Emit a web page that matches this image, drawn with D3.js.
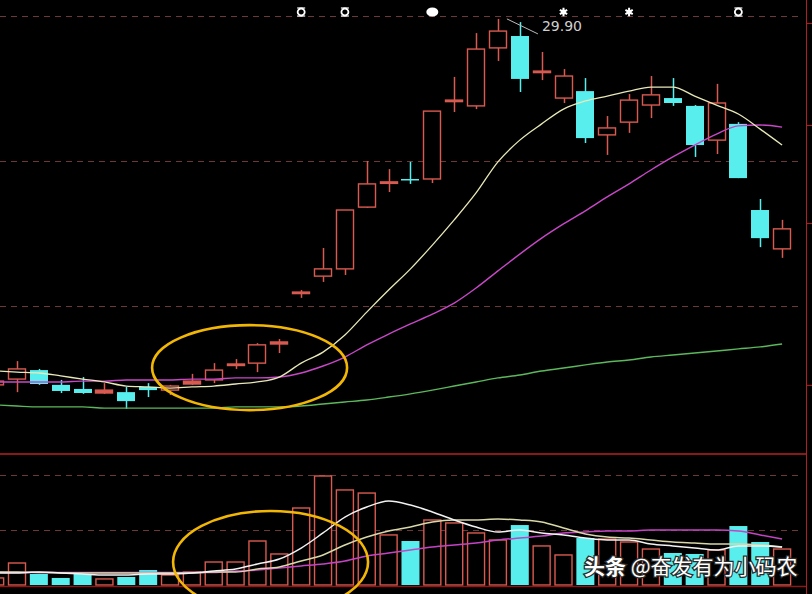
<!DOCTYPE html>
<html><head><meta charset="utf-8">
<script src="https://cdn.jsdelivr.net/npm/d3@7/dist/d3.min.js"></script>
<style>html,body{margin:0;padding:0;background:#000;overflow:hidden}</style>
</head><body><svg id="c" width="812" height="594"></svg>
<script>
// ---------- data ----------
const days = ["D00","D01","D02","D03","D04","D05","D06","D07","D08","D09","D10","D11","D12","D13","D14","D15","D16","D17","D18",
  "D19","D20","D21","D22","D23","D24","D25","D26","D27","D28","D29","D30","D31","D32","D33","D34","D35","D36"];
const open  = [17.28,17.48,17.79,17.28,17.14,17.00,17.03,17.21,17.10,17.31,17.45,17.97,18.03,18.69,20.45,21.03,21.28,23.41,24.24,
  24.38,24.38,27.07,26.90,28.90,29.31,28.07,27.17,27.41,25.90,26.34,26.93,27.17,26.90,25.72,26.28,23.31,21.97];
const high  = [17.45,18.10,17.83,17.45,17.55,17.34,17.21,17.34,17.28,17.66,18.03,18.17,18.72,18.86,20.55,22.00,23.31,25.00,24.72,
  24.97,26.72,27.90,29.41,29.90,29.79,28.76,28.17,27.86,26.55,27.31,27.93,27.86,26.93,27.66,26.34,23.69,22.97];
const low   = [17.24,17.03,17.28,17.00,16.97,16.97,16.45,16.86,16.93,17.28,17.34,17.83,17.72,18.38,20.28,20.83,21.07,23.38,23.93,
  24.21,24.24,26.69,26.79,28.45,27.38,27.79,27.00,25.62,25.21,25.97,26.48,26.90,25.14,25.24,24.41,22.03,21.66];
const close = [17.41,17.83,17.31,17.07,17.00,17.10,16.72,17.10,17.24,17.41,17.79,18.00,18.66,18.76,20.48,21.28,23.31,24.21,24.28,
  24.34,26.72,27.10,28.86,29.48,27.83,28.10,27.93,25.79,26.14,27.10,27.28,27.00,25.55,27.00,24.41,22.34,22.66];
const volume = [6.4,20.0,10.0,6.4,10.0,5.5,7.3,13.6,9.1,11.8,20.9,20.9,40.0,28.2,70.0,99.1,86.4,83.6,45.5,
  40.0,59.1,56.4,47.3,40.9,54.5,35.5,27.3,42.7,41.8,39.1,32.7,29.1,28.2,31.8,53.6,39.1,32.7];
const priceMA5  = [17.76,17.72,17.69,17.59,17.48,17.38,17.24,17.21,17.17,17.21,17.24,17.31,17.38,17.55,18.03,18.41,19.00,19.79,20.55,
  21.28,22.10,22.97,23.90,24.97,25.72,26.28,26.79,27.07,27.24,27.41,27.55,27.55,27.24,26.93,26.62,26.10,25.55];
const priceMA10 = [17.38,17.38,17.38,17.38,17.41,17.41,17.45,17.45,17.45,17.48,17.48,17.52,17.52,17.55,17.69,17.93,18.24,18.66,19.03,
  19.38,19.72,20.10,20.62,21.21,21.79,22.34,22.83,23.28,23.76,24.21,24.69,25.14,25.55,25.93,26.21,26.24,26.17];
const priceMA60 = [16.59,16.55,16.52,16.52,16.52,16.48,16.48,16.48,16.48,16.48,16.48,16.52,16.52,16.52,16.55,16.62,16.69,16.76,16.86,
  16.97,17.10,17.24,17.38,17.52,17.62,17.76,17.86,17.97,18.07,18.14,18.24,18.31,18.38,18.45,18.52,18.59,18.69];
const volMA5  = [10.9,10.9,11.8,10.9,10.0,9.1,9.1,10.0,10.0,10.9,12.7,14.5,19.1,23.6,33.6,47.3,61.8,70.9,76.4,
  72.7,66.4,59.1,52.7,48.2,50.0,47.3,45.5,42.7,40.9,40.9,37.3,35.5,33.6,31.8,35.5,35.5,34.5];
const volMA10 = [11.8,11.8,11.4,11.0,10.9,10.9,10.9,10.9,10.9,10.9,11.8,11.8,14.5,16.4,21.8,27.3,36.4,43.6,49.1,
  52.7,57.3,59.1,59.1,60.0,59.1,57.3,51.8,46.4,43.6,42.7,40.9,39.1,38.2,37.3,37.3,36.4,34.5];
const volMA20 = [11.8,11.4,11.4,11.4,11.4,11.4,11.4,11.4,11.4,11.4,11.4,12.7,13.6,15.5,17.3,19.1,21.8,26.4,29.1,
  31.8,34.5,36.4,38.2,40.9,42.7,44.5,47.3,48.2,49.1,49.1,50.0,50.0,50.0,50.0,49.1,45.5,41.8];
const priceGrid = [20, 25, 30];
const volGrid = [50, 100];
const priceAxisTicks = [17.28, 22.86, 26.24, 29.76];
const peakIndex = 23;
const peakLabel = "29.90";
const markerDays = ["D14","D16","D20","D26","D29","D34"];
const markerKinds = ["ring","ring","blob","star","star","ring"];
const watermark = ["头条", " @奋发有为小码农"];

// ---------- layout ----------
const W = 812, H = 594;
const axisX = 806;
const svg = d3.select("#c");
svg.append("rect").attr("width", W).attr("height", H).attr("fill", "#000");

const x = d3.scalePoint().domain(days).range([-4.86, 782.1]);
const step = x.step();
const xi = i => x.range()[0] + i * step;
const yP = d3.scaleLinear().domain([15, 30]).range([451, 16]);
const yV = d3.scaleLinear().domain([0, 100]).range([585, 475]);
const bodyW = 18;
const UP = "#d95a50", DOWN = "#58eeee";

const main = svg.append("g");
const vol = svg.append("g");

// grid
main.selectAll("line.g").data(priceGrid).join("line")
  .attr("x1", 0).attr("x2", 802).attr("y1", d => Math.round(yP(d)) + 0.5).attr("y2", d => Math.round(yP(d)) + 0.5)
  .attr("stroke", "#6e3838").attr("stroke-dasharray", "6,5");
vol.selectAll("line.g").data(volGrid).join("line")
  .attr("x1", 0).attr("x2", 802).attr("y1", d => Math.round(yV(d)) + 0.5).attr("y2", d => Math.round(yV(d)) + 0.5)
  .attr("stroke", "#6e3838").attr("stroke-dasharray", "6,5");

// panel frame
svg.append("line").attr("x1", 0).attr("x2", axisX).attr("y1", 454).attr("y2", 454).attr("stroke", "#8a1a1a").attr("stroke-width", 2);
svg.append("line").attr("x1", 0).attr("x2", axisX).attr("y1", 586.5).attr("y2", 586.5).attr("stroke", "#8a1a1a").attr("stroke-width", 1.5);
const axisG = svg.append("g").attr("transform", `translate(${axisX},0)`)
  .call(d3.axisRight(yP).tickValues(priceAxisTicks).tickSize(6).tickFormat(""));
axisG.select(".domain").remove();
axisG.selectAll("line").attr("stroke", "#b02020");
svg.append("line").attr("x1", axisX + 0.5).attr("x2", axisX + 0.5).attr("y1", 0).attr("y2", H).attr("stroke", "#b02020");

const idx = d3.range(days.length);
const isUp = i => close[i] >= open[i];

// volume bars
idx.forEach(i => {
  const cx = x(days[i]);
  const top = yV(volume[i]);
  if (isUp(i)) {
    vol.append("rect").attr("x", cx - bodyW / 2 + 0.5).attr("y", top).attr("width", bodyW - 1).attr("height", yV(0) - top)
      .attr("fill", "#000").attr("stroke", UP).attr("stroke-width", 1.4);
  } else {
    vol.append("rect").attr("x", cx - bodyW / 2).attr("y", top).attr("width", bodyW).attr("height", yV(0) - top)
      .attr("fill", DOWN);
  }
});

// volume MA lines
const vline = d3.line().x((d, i) => x(days[i])).y(d => yV(d)).curve(d3.curveMonotoneX);
vol.append("path").datum(volMA20).attr("d", vline).attr("fill", "none").attr("stroke", "#c444c4").attr("stroke-width", 1.5);
vol.append("path").datum(volMA10).attr("d", vline).attr("fill", "none").attr("stroke", "#d8d8a8").attr("stroke-width", 1.5);
vol.append("path").datum(volMA5).attr("d", vline).attr("fill", "none").attr("stroke", "#f2f2f2").attr("stroke-width", 1.5);

// candles
idx.forEach(i => {
  const cx = Math.round(x(days[i]));
  const up = isUp(i);
  const col = up ? UP : DOWN;
  const bt = yP(Math.max(open[i], close[i]));
  const bb = yP(Math.min(open[i], close[i]));
  const bh = Math.max(1.5, bb - bt);
  if (up) {
    main.append("line").attr("x1", cx + 0.5).attr("x2", cx + 0.5).attr("y1", yP(high[i])).attr("y2", bt).attr("stroke", col).attr("stroke-width", 1.5);
    main.append("line").attr("x1", cx + 0.5).attr("x2", cx + 0.5).attr("y1", bt + bh).attr("y2", yP(low[i])).attr("stroke", col).attr("stroke-width", 1.5);
    main.append("rect").attr("x", cx - bodyW / 2 + 0.5).attr("y", bt).attr("width", bodyW - 1).attr("height", bh)
      .attr("fill", bh > 3 ? "#000" : col).attr("stroke", col).attr("stroke-width", 1.4);
  } else {
    main.append("line").attr("x1", cx + 0.5).attr("x2", cx + 0.5).attr("y1", yP(high[i])).attr("y2", yP(low[i])).attr("stroke", col).attr("stroke-width", 1.5);
    main.append("rect").attr("x", cx - bodyW / 2).attr("y", bt).attr("width", bodyW).attr("height", bh).attr("fill", col);
  }
});

// price MA lines
const pline = d3.line().x((d, i) => x(days[i])).y(d => yP(d)).curve(d3.curveMonotoneX);
main.append("path").datum(priceMA60).attr("d", pline).attr("fill", "none").attr("stroke", "#5cb85c").attr("stroke-width", 1.4);
main.append("path").datum(priceMA10).attr("d", pline).attr("fill", "none").attr("stroke", "#c848c8").attr("stroke-width", 1.4);
main.append("path").datum(priceMA5).attr("d", pline).attr("fill", "none").attr("stroke", "#e8e8b8").attr("stroke-width", 1.3);

// peak label
const px = x(days[peakIndex]) + bodyW / 2, py = yP(high[peakIndex]);
main.append("line").attr("x1", px).attr("y1", py).attr("x2", px + 31).attr("y2", py + 15).attr("stroke", "#bbbbbb").attr("stroke-width", 1);
main.append("text").attr("x", px + 35).attr("y", py + 12).text(peakLabel)
  .attr("font-family", "DejaVu Sans, sans-serif").attr("font-size", 14).attr("fill", "#cfcfcf");

// top markers
markerDays.forEach((d, k) => {
  const mx = x(d), my = 12;
  const g = svg.append("g").attr("transform", `translate(${mx},${my})`);
  const kind = markerKinds[k];
  if (kind === "ring") {
    g.append("circle").attr("r", 3.5).attr("fill", "none").attr("stroke", "#fff").attr("stroke-width", 1.8);
    g.append("line").attr("x1", -4).attr("x2", 4).attr("y1", -4).attr("y2", -4).attr("stroke", "#fff").attr("stroke-width", 1.2);
    g.append("line").attr("x1", -4).attr("x2", 4).attr("y1", 4).attr("y2", 4).attr("stroke", "#fff").attr("stroke-width", 1.2);
  } else if (kind === "blob") {
    g.append("ellipse").attr("rx", 6).attr("ry", 4.5).attr("fill", "#fff");
  } else {
    g.append("path").attr("d", d3.symbol(d3.symbolAsterisk, 50)).attr("stroke", "#fff").attr("stroke-width", 2);
    g.append("circle").attr("r", 2.5).attr("fill", "#fff");
  }
});

// annotation ellipses
const ann1 = {i0: 7.18, i1: 16.1, lo: 16.41, hi: 19.34};
const ann2 = {i0: 8.14, i1: 17.06, lo: -25.5, hi: 67.3};
svg.append("ellipse")
  .attr("cx", (xi(ann1.i0) + xi(ann1.i1)) / 2).attr("cy", (yP(ann1.lo) + yP(ann1.hi)) / 2)
  .attr("rx", (xi(ann1.i1) - xi(ann1.i0)) / 2).attr("ry", (yP(ann1.lo) - yP(ann1.hi)) / 2)
  .attr("fill", "none").attr("stroke", "#f2b705").attr("stroke-width", 2.6);
svg.append("ellipse")
  .attr("cx", (xi(ann2.i0) + xi(ann2.i1)) / 2).attr("cy", (yV(ann2.lo) + yV(ann2.hi)) / 2)
  .attr("rx", (xi(ann2.i1) - xi(ann2.i0)) / 2).attr("ry", (yV(ann2.lo) - yV(ann2.hi)) / 2)
  .attr("fill", "none").attr("stroke", "#f2b705").attr("stroke-width", 2.6);

// watermark
const wm = svg.append("text").attr("x", 584).attr("y", 574)
  .attr("font-family", "Noto Sans CJK SC, sans-serif").attr("font-size", 21).attr("fill", "#fff")
  .attr("stroke", "#2a2a2a").attr("stroke-width", 2.5).attr("paint-order", "stroke");
wm.append("tspan").attr("font-weight", "bold").text(watermark[0]);
wm.append("tspan").text(watermark[1]);
</script></body></html>
